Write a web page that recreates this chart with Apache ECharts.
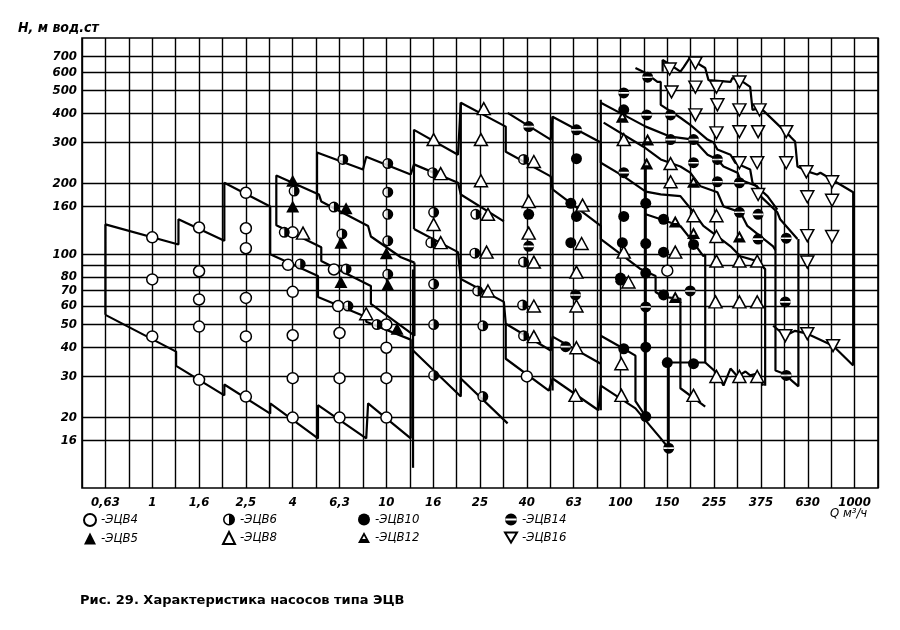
<!DOCTYPE html>
<html><head><meta charset="utf-8">
<script src="https://cdn.jsdelivr.net/npm/echarts@6/dist/echarts.min.js"></script>
<style>html,body{margin:0;padding:0;background:#fff}#c{width:900px;height:630px}</style>
</head><body><div id="c"></div>
<script>
// x values are column positions on the Q scale: 0 = "0,63", 1 = "1", ... 16 = "1000"
const Q_LABELS = ['0,63','1','1,6','2,5','4','6,3','10','16','25','40','63','100','150','255','375','630','1000'];
const H_GRID = [16,20,30,40,50,60,70,80,90,100,160,200,300,400,500,600,700];
const H_LABELS = ['16','20','30','40','50','60','70','80','','100','160','200','300','400','500','600','700'];

// markers [Q column, H]
const ECV4 = [[1,118],[1,78],[1,44.5],[2,130],[2,84.5],[2,64],[2,49],[2,29],[3,183],[3,129],[3,106],[3,65],[3,44.5],[3,24.6],[4,124],[3.9,90],[4,69],[4,45],[4,29.5],[4,20],[4.88,86],[4.97,60],[5,46],[5,29.5],[5,20],[6,50],[6,39.8],[6,29.5],[6,20],[9,30],[12,85]];
const ECV5 = [[4,206],[4,160],[5.14,157],[5.03,112],[5.03,76],[6.03,74],[6,101],[6.23,48]];
const ECV6 = [[4.03,186],[3.82,124],[4.16,90.7],[5.07,254],[4.88,159],[5.05,122],[5.14,86.3],[5.18,60],[6.03,244],[6.03,184],[6.03,148],[6.03,114],[6.03,82],[5.8,50],[6.99,223],[7.01,151],[6.95,112],[7.01,74.5],[7.01,50],[7.01,30.3],[7.91,148],[7.89,101],[7.95,69.6],[8.06,49.4],[8.06,24.6],[8.91,60.6],[8.93,44.8],[8.93,92.5],[8.93,254]];
const ECV8 = [[4.22,123],[5.57,55.6],[7.16,221],[7.01,309],[7.01,134],[7.16,112],[8.08,419],[8.02,309],[8.02,206],[8.17,148],[8.14,102],[8.17,69.6],[9.15,249],[9.04,168],[9.04,123],[9.15,92.5],[9.15,60],[9.15,44.4],[10.19,162],[10.17,111],[10.06,83.8],[10.06,60],[10.06,39.8],[10.04,24.9],[11.07,309],[11.07,102],[11.17,76],[11.02,34],[11.02,24.9],[12.07,244],[12.07,204],[12.17,102],[12.56,146],[13.05,146],[13.05,119],[13.05,93.4],[13.54,93.4],[13.92,93.4],[13.03,62.5],[13.54,62.5],[13.92,62.5],[13.05,30],[13.54,30],[13.92,30],[12.56,24.9]];
const ECV10 = [[9.94,165],[10.06,256],[9.04,148],[10.06,145],[9.94,112],[11.07,414],[11.07,145],[11.54,165],[11.04,112],[11.54,111],[11.92,141],[11.92,102],[11.92,66.9],[11,79],[11.54,83],[11.07,39.4],[11.54,40],[11.54,20.2],[12,34.4],[12.56,34],[12.56,110]];
const ECV12 = [[11.04,387],[11.58,309],[11.56,244],[12.17,138],[12.17,65.6],[12.56,204],[12.56,123],[13.54,119]];
const ECV14 = [[9.04,351],[10.06,340],[9.04,108],[10.04,66.9],[9.83,40.2],[11,77.5],[11.07,489],[11.58,571],[11.56,394],[12.07,394],[11.07,223],[12.07,309],[11.54,59.5],[12.49,69.6],[12.56,309],[12.56,246],[13.07,254],[13.07,204],[13.54,202],[13.54,151],[13.94,148],[13.94,116],[14.54,117],[14.52,62.5],[14.54,30.3],[12.03,14.8]];
const ECV16 = [[12.05,619],[12.6,656],[12.09,494],[12.6,518],[13.05,518],[13.54,545],[13.07,435],[13.54,414],[13.97,414],[12.6,394],[13.05,330],[13.54,334],[13.94,334],[14.54,334],[13.54,246],[13.92,246],[14.54,246],[14.97,225],[15.52,204],[13.94,180],[14.99,176],[15.52,170],[14.99,120],[15.52,119],[14.99,92.5],[14.52,44.8],[14.99,45.7],[15.54,40.6]];

// envelope lines [Q column, H]
const LINE_A = [[0,55],[0,134],[1.56,110],[1.56,141],[2.54,114],[2.54,202],[3.52,160],[3.52,100],[4.54,80.6],[4.54,65.6],[5.57,53.9],[5.57,51.4],[6.52,43.1],[6.52,16.3]];
const LINE_B = [[0,55],[1.51,38.3],[1.51,33.3],[2.54,24.9],[2.54,27.7],[3.52,20.8],[3.52,23],[4.54,16.3],[4.54,22.6],[5.57,16.3],[5.61,23],[6.52,16.3]];
const LINE_C = [[6.6,92],[6.31,97],[5.67,119],[5.61,132],[4.61,168],[4.56,180],[3.65,217],[3.65,133],[4.61,107],[4.61,93.4],[5.67,73.1],[5.67,61.3],[6.6,44.8],[6.6,92]];
const LINE_D = [[4.52,171],[4.52,272],[5.5,230],[5.57,261],[6.52,219],[6.59,242],[7.53,202],[7.59,180],[8.51,138]];
const LINE_E = [[6.57,38.7],[7.59,24.6],[7.59,29.4],[8.59,18.9]];
const LINE_V1 = [[6.57,12.2],[6.57,86]];
const LINE_F = [[6.59,128],[6.59,340],[7.53,266],[7.59,444],[8.55,351],[8.55,274],[9.51,215],[9.55,189],[10.58,132],[10.58,116],[11.43,86.3],[11.75,80.6],[11.75,68.9],[11.92,65.6],[12.28,64.4],[12.28,26.7],[12.81,22.3]];
const LINE_G = [[8.59,402],[9.51,309],[9.55,387],[10.58,300],[10.58,246],[11.07,215],[11.54,185],[11.86,180],[12.28,177],[12.56,151],[12.77,132],[13.07,119],[13.35,108],[13.56,98],[13.92,93.4],[14.09,86.3],[14.09,27.4]];
const LINE_H = [[6.59,128],[7.53,102],[7.59,78.3],[8.51,62.5],[8.55,50.4],[9.51,38.7],[9.55,44.4],[10.58,34]];
const LINE_I = [[8.55,50.4],[8.55,35.7],[9.47,26.1],[9.55,29.4],[10.53,21.5],[10.58,27.4],[11.32,21.9],[11.86,16.3],[12.03,14.8]];
const LINE_V2 = [[7.59,444],[7.59,25.4]];
const LINE_V3 = [[9.55,387],[9.55,26.1]];
const LINE_V4 = [[10.58,457],[10.58,21.5]];
const LINE_V5 = [[11.54,254],[11.54,20.4]];
const LINE_M = [[12.03,14.8],[12.03,34.4],[12.81,34.4],[12.81,100]];
const LINE_N = [[12.81,34.4],[13.07,30.9],[13.2,27.4],[13.35,32.4],[13.5,30],[13.67,31.5],[13.77,30.3],[13.94,30.9],[14.05,27.4]];
const LINE_S = [[10.58,44.8],[11.07,39.4],[11.32,36.8],[11.32,23.5],[11.54,20.2]];
const LINE_P = [[14.31,155],[14.31,31.8],[14.48,30.9],[14.8,27.2],[14.8,116]];
const LINE_Q = [[14.26,49.4],[14.52,44.8],[14.73,47],[14.99,45.7],[15.54,40.6],[15.97,33.4]];
const LINE_R = [[11.9,603],[11.9,676],[12.07,644],[12.28,603],[12.35,630],[12.49,696],[12.6,663],[12.81,625],[12.88,555],[13.35,545],[13.39,566],[13.56,555],[13.77,519],[13.82,414],[13.99,422],[14.63,318],[14.73,303],[14.78,237],[14.99,226],[15.2,219],[15.27,223],[15.52,208],[15.97,184],[15.97,33.4]];
const LINE_Z1 = [[11.32,625],[11.54,595],[11.79,545],[11.86,545],[11.86,435],[12.28,383],[12.49,357],[12.86,309],[12.99,300],[13.07,280],[13.35,266],[13.45,246],[13.77,230],[13.82,202],[14.14,177],[14.35,155]];
const LINE_Z2 = [[10.58,444],[11.07,394],[11.54,351],[12.07,318],[12.56,309],[12.86,266],[13.07,254],[13.2,237],[13.5,223],[13.56,208],[13.92,195],[13.99,177],[14.35,151],[14.41,141],[14.78,116]];
const LINE_Z3 = [[10.64,365],[11.49,288],[11.86,254],[12.28,237],[12.49,223],[12.71,195],[13.07,184],[13.2,160],[13.56,151],[13.71,132],[13.99,119],[14.26,108],[14.31,104]];
const LINE_Z5 = [[11.54,148],[11.86,141],[12.28,132],[12.56,112],[12.77,98],[12.81,100]];

const LINES = [LINE_A,LINE_B,LINE_C,LINE_D,LINE_E,LINE_V1,LINE_F,LINE_G,LINE_H,LINE_I,LINE_V2,LINE_V3,LINE_V4,LINE_V5,LINE_M,LINE_N,LINE_S,LINE_P,LINE_Q,LINE_R,LINE_Z1,LINE_Z2,LINE_Z3,LINE_Z5];

const FONT = "'DejaVu Sans Condensed','DejaVu Sans',sans-serif";
const SYM_HALF = 'path://M10,0A10,10 0 1,1 10,20A10,10 0 1,1 10,0Z M10,2.6A7.4,7.4 0 1,0 10,17.4A7.4,7.4 0 1,0 10,2.6Z M10,2.6A7.4,7.4 0 0,1 10,17.4Z';
const SYM_BAR = 'path://M10,0A10,10 0 1,1 10,20A10,10 0 1,1 10,0Z M0.6,8.5L0.6,11.5L19.4,11.5L19.4,8.5Z';
const SYM_TRI12 = 'path://M10,0L20,18L0,18Z M10,6L7,11.5L13,11.5Z';
const SYM_DOWN = 'path://M0,0L20,0L10,17Z';

function markers(name, data, symbol, size, fill, border) {
  return {
    name, type: 'scatter', data, symbol, symbolSize: size, z: 6, silent: true,
    itemStyle: { color: fill, borderColor: '#000', borderWidth: border ? 1.5 : 0, opacity: 1 }
  };
}
function backing(data, symbol, size) {
  return { name: '_bg', type: 'scatter', data, symbol, symbolSize: size, z: 5, silent: true,
    itemStyle: { color: '#fff', borderWidth: 0 } };
}

const series = [];
series.push({
  name: '_grid', type: 'line', data: [[-0.5, 10]], symbol: 'none', silent: true, z: 1,
  lineStyle: { opacity: 0 },
  markLine: {
    silent: true, symbol: ['none', 'none'], animation: false,
    lineStyle: { color: '#000', width: 1.4, type: 'solid' },
    label: { show: true, position: 'start', distance: 5, color: '#000', fontSize: 13,
      fontStyle: 'italic', fontWeight: 'bold', fontFamily: FONT },
    data: H_GRID.map((h, i) => ({ yAxis: h, label: { formatter: H_LABELS[i] } }))
  }
});
LINES.forEach(l => series.push({
  type: 'line', data: l, symbol: 'none', showSymbol: false, silent: true, z: 3,
  lineStyle: { color: '#000', width: 2.2 }
}));
series.push(backing(ECV6, 'circle', 10));
series.push(backing(ECV14, 'circle', 10));
series.push(backing(ECV12, 'triangle', [12, 11]));
series.push(markers('ЭЦВ4', ECV4, 'circle', 11, '#fff', true));
series.push(markers('ЭЦВ5', ECV5, 'triangle', [13, 12], '#000', false));
series.push(markers('ЭЦВ6', ECV6, SYM_HALF, 11, '#000', false));
series.push(markers('ЭЦВ8', ECV8, 'triangle', [13, 12], '#fff', true));
series.push(markers('ЭЦВ10', ECV10, 'circle', 11, '#000', false));
series.push(markers('ЭЦВ12', ECV12, SYM_TRI12, [13, 12], '#000', false));
series.push(markers('ЭЦВ14', ECV14, SYM_BAR, 11, '#000', false));
series.push(markers('ЭЦВ16', ECV16, SYM_DOWN, [13, 12], '#fff', true));

function legendCol(names, left) {
  return {
    data: names, left, top: 508, orient: 'vertical', itemGap: 5, itemWidth: 12, itemHeight: 12,
    selectedMode: false, formatter: '-{name}',
    textStyle: { fontStyle: 'italic', fontSize: 13, color: '#000', fontFamily: FONT }
  };
}

const option = {
  animation: false,
  backgroundColor: '#fff',
  grid: { left: 82, right: 22, top: 38, bottom: 142, show: true, borderColor: '#000', borderWidth: 1.6 },
  xAxis: {
    type: 'value', min: -0.5, max: 16.5, interval: 0.5,
    axisLine: { show: false }, axisTick: { show: false },
    splitLine: { show: true, lineStyle: { color: '#000', width: 1.4 } },
    axisLabel: {
      margin: 8, color: '#000', fontSize: 13, fontStyle: 'italic', fontWeight: 'bold', fontFamily: FONT,
      showMinLabel: true, showMaxLabel: true,
      formatter: v => { const r = Math.round(v); return Math.abs(v - r) < 1e-6 && r >= 0 && r < Q_LABELS.length ? Q_LABELS[r] : ''; }
    }
  },
  yAxis: {
    type: 'log', logBase: 10, min: 10, max: 840,
    axisLine: { show: false }, axisTick: { show: false }, axisLabel: { show: false }, splitLine: { show: false }
  },
  legend: [
    legendCol(['ЭЦВ4', 'ЭЦВ5'], 78),
    legendCol(['ЭЦВ6', 'ЭЦВ8'], 217),
    legendCol(['ЭЦВ10', 'ЭЦВ12'], 353),
    legendCol(['ЭЦВ14', 'ЭЦВ16'], 499)
  ],
  graphic: [
    { type: 'text', left: 18, top: 21, style: { text: 'Н, м вод.ст', fontSize: 14, fontStyle: 'italic', fontWeight: 'bold', fontFamily: FONT, fill: '#000' } },
    { type: 'text', left: 830, top: 507, style: { text: 'Q м³/ч', fontSize: 13, fontStyle: 'italic', fontFamily: FONT, fill: '#000' } },
    { type: 'text', left: 80, top: 594, style: { text: 'Рис. 29. Характеристика насосов типа ЭЦВ', fontSize: 13, fontWeight: 'bold', fontFamily: "'DejaVu Sans',sans-serif", fill: '#000' } }
  ],
  series
};
const chart = echarts.init(document.getElementById('c'));
chart.setOption(option);
</script>
</body></html>
